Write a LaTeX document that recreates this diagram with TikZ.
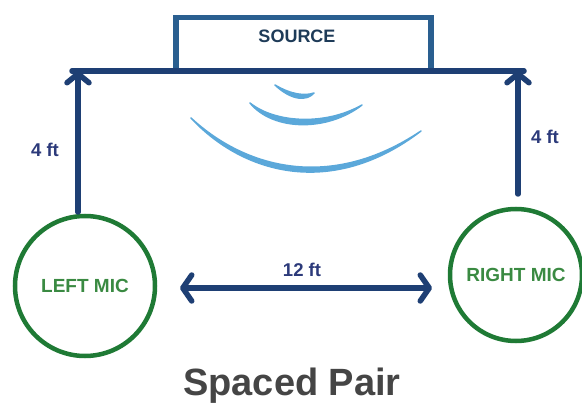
\documentclass[tikz,border=0pt]{standalone}
\usepackage{fontspec}
\setmainfont{Liberation Sans}
\usetikzlibrary{arrows.meta}
\definecolor{navy}{HTML}{1E3F74}
\definecolor{boxblue}{HTML}{2A5F90}
\definecolor{srctext}{HTML}{1E3B58}
\definecolor{micgreen}{HTML}{1F7A35}
\definecolor{micgreentext}{HTML}{3A8A42}
\definecolor{labelnavy}{HTML}{2C3A7A}
\definecolor{wave}{HTML}{5BA8DA}
\definecolor{titlegray}{HTML}{454545}
\tikzset{
  dim/.style={draw=navy, line width=5.5pt, line cap=round,
    -{Straight Barb[length=9pt,width=22pt,line width=5.5pt,round]}},
  dimboth/.style={draw=navy, line width=5.5pt, line cap=round,
    {Straight Barb[length=9pt,width=26pt,line width=5.5pt,round]}-{Straight Barb[length=9pt,width=26pt,line width=5.5pt,round]}},
  mic/.style={circle, draw=micgreen, line width=4.5pt, text=micgreentext,
    font=\bfseries\fontsize{19}{22}\selectfont, inner sep=0pt},
  dimlabel/.style={text=labelnavy, font=\bfseries\fontsize{18.5}{22}\selectfont},
  wavefill/.style={fill=wave, draw=wave, line width=1.5pt, line join=round},
}
\begin{document}
\begin{tikzpicture}[x=1pt,y=-1pt]
  \useasboundingbox (0,0) rectangle (582,409);

  % source box and the baseline below it
  \node[draw=boxblue, line width=5.5pt, minimum width=255pt, minimum height=54pt,
        inner sep=0pt, anchor=north west] (src) at (173,15) {};
  \node[text=srctext, font=\bfseries\fontsize{18}{21}\selectfont] (srclabel) at (297,36) {SOURCE};
  \coordinate (ltop) at (78,71);
  \coordinate (rtop) at (518,71);
  \coordinate (lend) at (72,71);
  \coordinate (rend) at (524,71);
  \draw[navy, line width=5.5pt, line cap=round] (lend) -- (rend);

  % microphones
  \node[mic, minimum size=140pt] (lmic) at (85,286) {LEFT MIC};
  \node[mic, minimum size=132pt] (rmic) at (516,275) {RIGHT MIC};

  % distances
  \coordinate (lbase) at (78,212);
  \coordinate (rbase) at (518,194);
  \draw[dim] (lbase) -- (ltop);
  \draw[dim] (rbase) -- (rtop);
  \node[dimlabel] (lft) at (45,150) {4 ft};
  \node[dimlabel] (rft) at (545,137) {4 ft};

  \coordinate (ml) at (180,288);
  \coordinate (mr) at (432,288);
  \draw[dimboth] (ml) -- (mr);
  \node[dimlabel] (gap) at (302,270) {12 ft};

  % sound waves, thicker in the middle than at the ends
  \filldraw[wavefill] (275,85) .. controls (292,95) and (305,96) .. (314,93)
                     .. controls (307,101) and (292,101) .. cycle;
  \filldraw[wavefill] (250,103) .. controls (275,123) and (325,126) .. (362,105)
                     .. controls (327,132) and (273,131) .. cycle;
  \filldraw[wavefill] (191,118) .. controls (245,168) and (330,192) .. (421,131)
                     .. controls (332,199) and (243,174) .. cycle;

  % title
  \node[text=titlegray, font=\bfseries\fontsize{38}{44}\selectfont] (title) at (292,386) {Spaced Pair};
\end{tikzpicture}
\end{document}
